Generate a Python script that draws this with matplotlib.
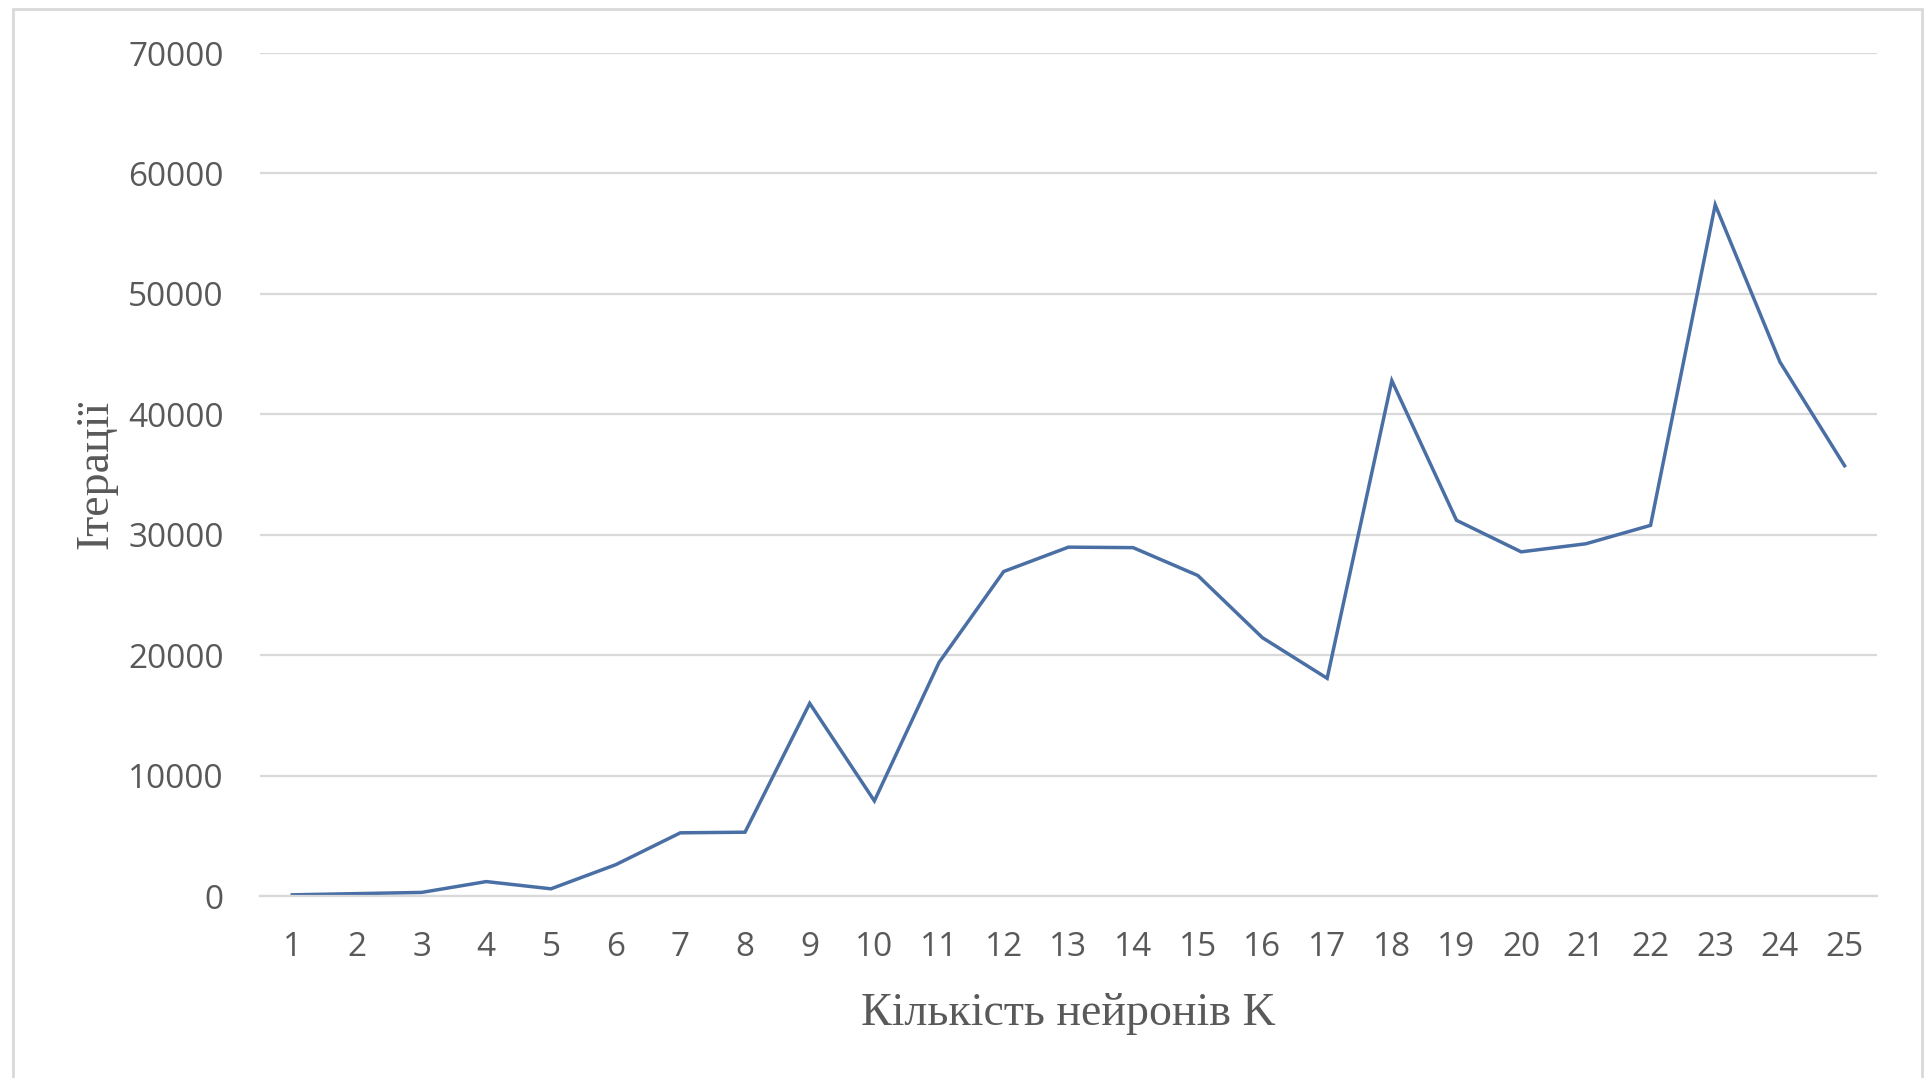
import matplotlib
matplotlib.use("Agg")
import matplotlib.pyplot as plt

# number of neurons K and iterations needed
neurons = list(range(1, 26))
iterations = [100, 200, 300, 1200, 600, 2600, 5250, 5300, 16000, 7900,
              19400, 26950, 28970, 28930, 26620, 21450, 18080, 42800, 31200, 28580,
              29250, 30780, 57400, 44350, 35730]

y_ticks = [0, 10000, 20000, 30000, 40000, 50000, 60000, 70000]

grid_color = "#D9D9D9"
text_color = "#595959"
line_color = "#4A6FA5"

fig = plt.figure(figsize=(19.31, 10.78), dpi=100)
ax = fig.add_axes([0.1346, 0.1688, 0.8374, 0.782])

ax.plot(neurons, iterations, color=line_color, linewidth=2.5, solid_joinstyle="miter")

ax.set_xlim(0.5, 25.5)
ax.set_ylim(0, 70000)
ax.set_xticks(neurons)
ax.set_xticklabels([str(n) for n in neurons])
ax.set_yticks(y_ticks)
ax.set_yticklabels([str(v) for v in y_ticks])

ax.grid(axis="y", color=grid_color, linewidth=1.6)
ax.set_axisbelow(True)
for side in ["left", "right", "top"]:
    ax.spines[side].set_visible(False)
ax.spines["bottom"].set_color(grid_color)
ax.spines["bottom"].set_linewidth(1.6)

ax.tick_params(axis="both", length=0, labelsize=24, labelcolor=text_color,
               labelfontfamily="Open Sans")
ax.tick_params(axis="y", pad=26)
ax.tick_params(axis="x", pad=25)

ax.set_xlabel("Кількість нейронів K", fontsize=33, family="Liberation Serif",
              color=text_color, labelpad=21)
ax.set_ylabel("Ітерації", fontsize=33, family="Liberation Serif",
              color=text_color, labelpad=8)

# chart frame
frame = plt.Rectangle((13 / 1931, -0.05), (1922 - 13) / 1931, 1 - 9 / 1078 + 0.05,
                      transform=fig.transFigure, fill=False,
                      edgecolor="#D9D9D9", linewidth=2)
fig.patches.append(frame)

fig.savefig("out.png", dpi=100, facecolor="white")
